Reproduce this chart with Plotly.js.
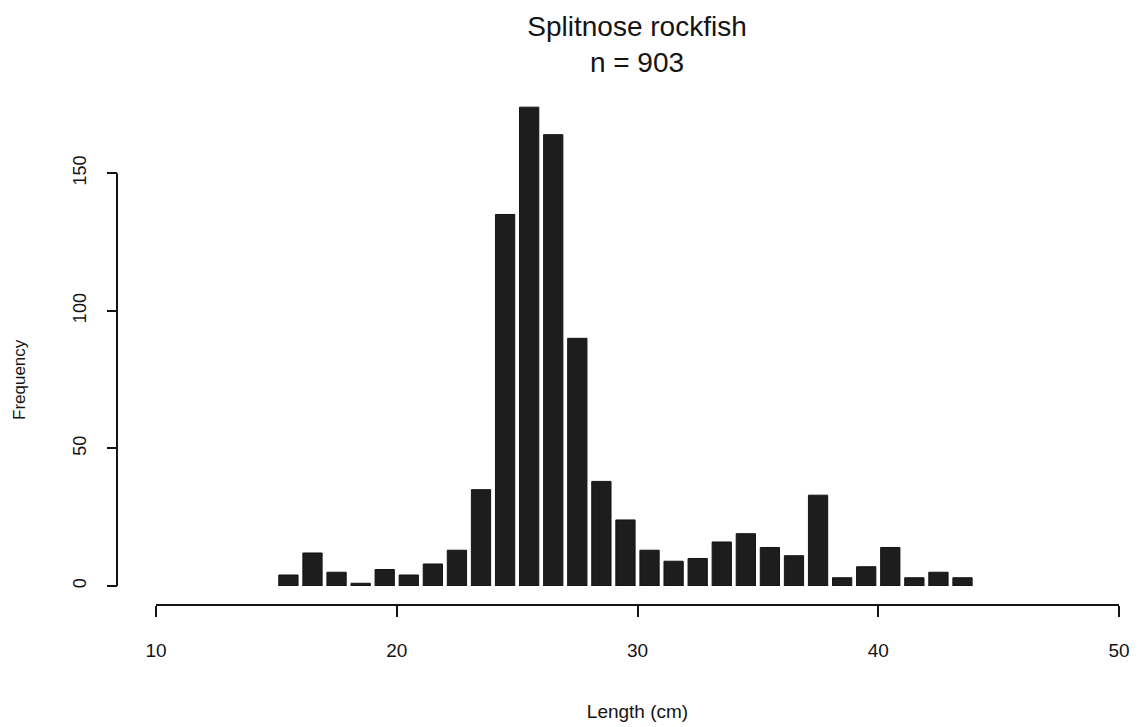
<!DOCTYPE html>
<html>
<head>
<meta charset="utf-8">
<script src="https://cdn.plot.ly/plotly-3.0.1.min.js"></script>
<style>
  html, body { margin: 0; padding: 0; background: #fff; }
  #chart { width: 1138px; height: 727px; }
</style>
</head>
<body>
<div id="chart"></div>
<script>
// Length-frequency of splitnose rockfish, 1 cm bins (bin midpoints)
const lengthMid = [15.5, 16.5, 17.5, 18.5, 19.5, 20.5, 21.5, 22.5, 23.5, 24.5,
                   25.5, 26.5, 27.5, 28.5, 29.5, 30.5, 31.5, 32.5, 33.5, 34.5,
                   35.5, 36.5, 37.5, 38.5, 39.5, 40.5, 41.5, 42.5, 43.5];
const frequency = [4, 12, 5, 1, 6, 4, 8, 13, 35, 135,
                   174, 164, 90, 38, 24, 13, 9, 10, 16, 19,
                   14, 11, 33, 3, 7, 14, 3, 5, 3];
const xTicks = [10, 20, 30, 40, 50];
const yTicks = [0, 50, 100, 150];
const sampleSize = 903;

const ink = '#141414';
const font = 'Liberation Sans, Arial, Helvetica, sans-serif';

const trace = {
  type: 'bar',
  x: lengthMid,
  y: frequency,
  marker: { color: '#1d1d1d', line: { color: ink, width: 1 } },
  hoverinfo: 'x+y'
};

const layout = {
  width: 1138,
  height: 727,
  paper_bgcolor: '#ffffff',
  plot_bgcolor: '#ffffff',
  margin: { l: 117, r: 19, t: 100, b: 122 },
  bargap: 0.2,
  showlegend: false,
  font: { family: font, color: ink },
  title: {
    text: 'Splitnose rockfish<br>n = ' + sampleSize,
    font: { family: font, size: 28, color: ink },
    xref: 'container', x: 637 / 1138, xanchor: 'center',
    yref: 'container', y: 1 - 36 / 727, yanchor: 'top'
  },
  xaxis: {
    domain: [39 / 1002, 1],
    range: [10, 50],
    anchor: 'free', position: 0,
    tickvals: xTicks,
    ticks: 'outside', ticklen: 11, tickwidth: 2, tickcolor: ink,
    ticklabelstandoff: 17,
    tickfont: { family: font, size: 19, color: ink },
    showline: false, showgrid: false, zeroline: false,
    title: { text: 'Length (cm)', font: { family: font, size: 19, color: ink }, standoff: 44 }
  },
  yaxis: {
    domain: [19 / 505, 1],
    range: [0, 176.6],
    anchor: 'free', position: 0,
    tickvals: yTicks,
    tickangle: -90,
    ticks: 'outside', ticklen: 10, tickwidth: 2, tickcolor: ink,
    ticklabelstandoff: 14,
    tickfont: { family: font, size: 18, color: ink },
    showline: false, showgrid: false, zeroline: false
  },
  shapes: [
    // axis lines spanning only the labelled tick range
    { type: 'line', xref: 'x', yref: 'paper', x0: xTicks[0], x1: xTicks[xTicks.length - 1], y0: 0, y1: 0,
      line: { color: ink, width: 2 } },
    { type: 'line', xref: 'paper', yref: 'y', x0: 0, x1: 0, y0: yTicks[0], y1: yTicks[yTicks.length - 1],
      line: { color: ink, width: 2 } }
  ],
  annotations: [
    { text: 'Frequency', xref: 'paper', yref: 'paper', x: (19 - 117) / 1002, y: (605 - 380) / 505,
      xanchor: 'center', yanchor: 'middle', textangle: -90, showarrow: false,
      font: { family: font, size: 17, color: ink } }
  ]
};

Plotly.newPlot('chart', [trace], layout, { displayModeBar: false, staticPlot: true });
</script>
</body>
</html>
